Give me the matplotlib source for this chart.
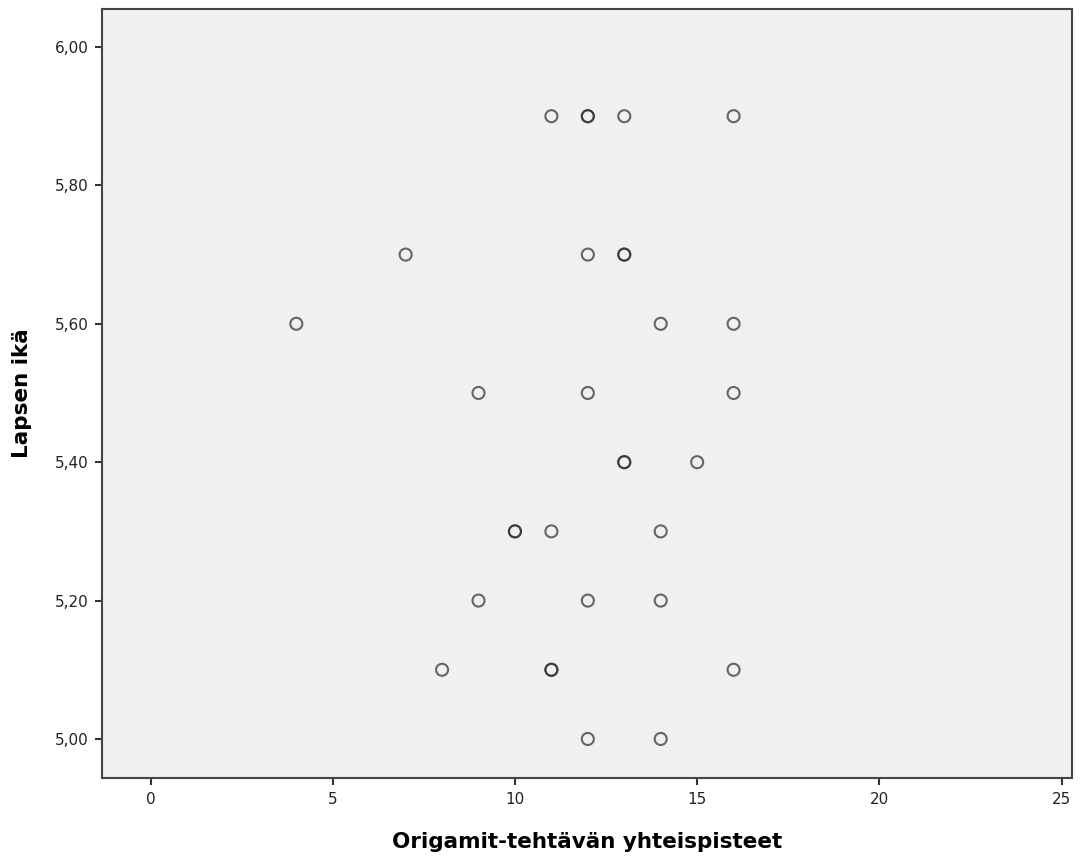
import matplotlib
matplotlib.use("Agg")
import matplotlib.pyplot as plt
from matplotlib.ticker import FuncFormatter

plt.rcParams['font.family'] = ['DejaVu Sans']

# Origami scores (x) and child's age (y); repeated pairs are overlapping points
scores = [11, 12, 12, 13, 16,
          7, 12, 13, 13,
          4, 14, 16,
          9, 12, 16,
          13, 13, 15,
          10, 10, 11, 14,
          9, 12, 14,
          8, 11, 11, 16,
          12, 14]
ages = [5.9, 5.9, 5.9, 5.9, 5.9,
        5.7, 5.7, 5.7, 5.7,
        5.6, 5.6, 5.6,
        5.5, 5.5, 5.5,
        5.4, 5.4, 5.4,
        5.3, 5.3, 5.3, 5.3,
        5.2, 5.2, 5.2,
        5.1, 5.1, 5.1, 5.1,
        5.0, 5.0]

x_ticks = [0, 5, 10, 15, 20, 25]
y_ticks = [5.0, 5.2, 5.4, 5.6, 5.8, 6.0]

fig = plt.figure(figsize=(10.81, 8.61), dpi=100)
ax = fig.add_axes([0.0948, 0.0964, 0.8973, 0.8937])
ax.set_facecolor('#f0f0f0')

ax.scatter(scores, ages, s=75, facecolors='none', edgecolors='#2a2a2a',
           linewidths=1.5, alpha=0.7, zorder=3)

ax.set_xlim(-1.32, 25.30)
ax.set_ylim(4.9436, 6.0556)
ax.set_xticks(x_ticks)
ax.set_yticks(y_ticks)
ax.yaxis.set_major_formatter(FuncFormatter(lambda v, p: f"{v:.2f}".replace('.', ',')))

for s in ax.spines.values():
    s.set_color('#444444')
    s.set_linewidth(1.5)
ax.tick_params(direction='out', length=5, width=1.5, color='#333333',
               labelsize=11, labelcolor='#222222', pad=5)

ax.set_xlabel('Origamit-tehtävän yhteispisteet', fontsize=15.5, fontweight='bold',
              labelpad=18)
ax.set_ylabel('Lapsen ikä', fontsize=15.5, fontweight='bold', labelpad=16)

fig.savefig('out.png', dpi=100)
